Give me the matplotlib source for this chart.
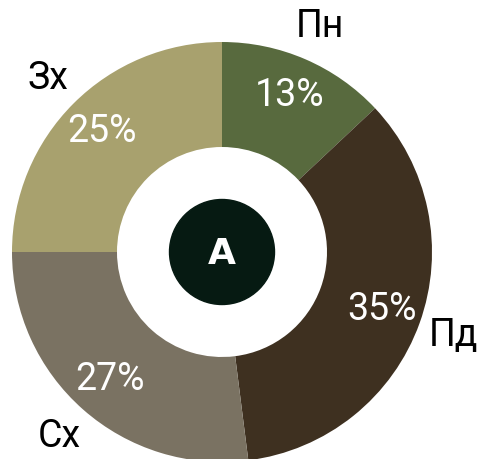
import matplotlib
matplotlib.use('Agg')
import matplotlib.pyplot as plt

plt.rcParams['font.family'] = ['Roboto', 'DejaVu Sans']

labels = ['Пн', 'Пд', 'Сх', 'Зх']
shares = [13, 35, 27, 25]
colors = ['#586a3e', '#3e3020', '#7a7262', '#a8a16e']
center_text = 'A'

fig = plt.figure(figsize=(4.88, 4.59), dpi=100)
ax = fig.add_axes([12 / 488, -3 / 459, 420 / 488, 420 / 459])

wedges, texts, autotexts = ax.pie(
    shares, labels=labels, colors=colors, startangle=90, counterclock=False,
    radius=1.0, wedgeprops=dict(width=0.5, linewidth=0),
    autopct=lambda p: '%d%%' % round(p), pctdistance=0.81, labeldistance=1.17,
    textprops=dict(fontsize=27))

for t in texts:
    t.set_ha('center')
    t.set_va('center')
    t.set_color('black')
for t in autotexts:
    t.set_color('white')
    t.set_fontsize(27)

ax.add_patch(plt.Circle((0, 0), 0.25, color='#061a12', zorder=3))
ax.text(0, -0.01, center_text, ha='center', va='center', color='white',
        fontsize=26, fontweight='bold', family='DejaVu Sans', zorder=4)

ax.set_xlim(-1, 1)
ax.set_ylim(-1, 1)
ax.set_aspect('equal')
ax.axis('off')

fig.savefig('out.png', dpi=100)
